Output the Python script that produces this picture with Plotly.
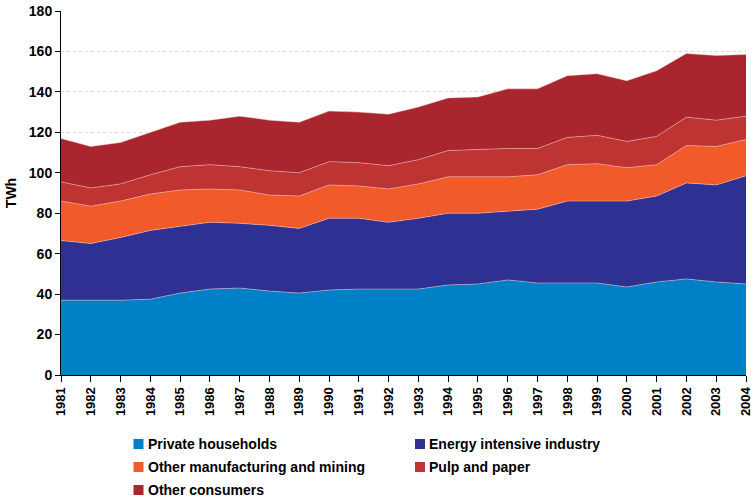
import plotly.graph_objects as go

years = list(range(1981, 2005))
private_households = [37, 37, 37, 37.5, 40.5, 42.5, 43, 41.5, 40.5, 42, 42.5, 42.5,
                      42.5, 44.5, 45, 47, 45.5, 45.5, 45.5, 43.5, 46, 47.5, 46, 45]
energy_intensive = [29.5, 28, 31, 34, 33, 33, 32, 32.5, 32, 35.5, 35, 33,
                    35, 35.5, 35, 34, 36.5, 40.5, 40.5, 42.5, 42.5, 47.5, 48, 53.5]
other_manufacturing = [19.5, 18.5, 18, 18, 18, 16.5, 16.5, 15, 16, 16.5, 16, 16.5,
                       17, 18, 18, 17, 17, 18, 18.5, 16.5, 15.5, 18.5, 19, 18]
pulp_paper = [9.5, 9, 8.5, 9.5, 11.5, 12, 11.5, 12, 11.5, 11.5, 11.5, 11.5,
              12, 13, 13.5, 14, 13, 13.5, 14, 13, 14, 14, 13, 11.5]
other_consumers = [21.5, 20.5, 20.5, 21, 22, 22, 25, 25, 25, 25, 25, 25.5,
                   26, 26, 26, 29.5, 29.5, 30.5, 30.5, 30, 32.5, 31.5, 32, 30.5]

series_names = ["Private households", "Energy intensive industry",
                "Other manufacturing and mining", "Pulp and paper", "Other consumers"]
series_values = [private_households, energy_intensive, other_manufacturing,
                 pulp_paper, other_consumers]
series_colors = ["#0080C6", "#2E3192", "#F15A29", "#BE3432", "#A9262F"]

W, H = 751, 500
L, R, T, B = 61, 5, 11, 125
PW, PH = W - L - R, H - T - B


def px_x(px):
    return (px - L) / PW


def px_y(py):
    return (H - B - py) / PH


fig = go.Figure()
for name, vals, col in zip(series_names, series_values, series_colors):
    fig.add_trace(go.Scatter(
        x=years, y=vals, name=name, mode="lines", stackgroup="one",
        fillcolor=col, line=dict(color="rgba(255,210,210,0.55)", width=0.8),
        showlegend=False,
    ))

font_family = "Liberation Sans, Arial, sans-serif"

# manual legend (two columns), positions in page pixels
legend_pos = [(133.5, 444), (415, 444), (133.5, 467), (415, 467), (133.5, 490)]
shapes = []
annotations = []
for (lx, ly), name, col in zip(legend_pos, series_names, series_colors):
    shapes.append(dict(type="rect", xref="paper", yref="paper",
                       x0=px_x(lx), x1=px_x(lx + 10), y0=px_y(ly - 5), y1=px_y(ly + 5),
                       fillcolor=col, line=dict(width=0)))
    annotations.append(dict(xref="paper", yref="paper", x=px_x(lx + 12), y=px_y(ly),
                            xanchor="left", yanchor="middle", showarrow=False,
                            text=name, font=dict(size=14, weight="bold", color="black",
                                                 family=font_family)))

fig.update_layout(
    width=W, height=H,
    margin=dict(l=L, r=R, t=T, b=B, autoexpand=False),
    paper_bgcolor="white", plot_bgcolor="white",
    font=dict(family=font_family, color="black"),
    showlegend=False,
    shapes=shapes, annotations=annotations,
    xaxis=dict(
        range=[1981, 2004], tickmode="array", tickvals=years,
        ticktext=[str(y) for y in years],
        tickangle=-90, showgrid=False, showline=True, linecolor="black",
        linewidth=1, ticks="outside", ticklen=6, tickcolor="black",
        tickfont=dict(size=13, weight="bold"), zeroline=False, automargin=False,
        ticklabeloverflow="allow",
    ),
    yaxis=dict(
        range=[0, 180], tickmode="linear", tick0=0, dtick=20,
        showgrid=True, gridcolor="#d8d8d8", griddash="dot", gridwidth=1,
        showline=True, linecolor="black", linewidth=1, ticks="outside",
        ticklen=5, tickcolor="black", tickfont=dict(size=14, weight="bold"),
        zeroline=False, automargin=False, ticklabeloverflow="allow",
        title=dict(text="TWh", font=dict(size=14, weight="bold"), standoff=8),
    ),
)

fig.write_html("out.html",
               config={"displayModeBar": False},
               post_script="document.body.style.margin='0';document.body.style.overflow='hidden';")
